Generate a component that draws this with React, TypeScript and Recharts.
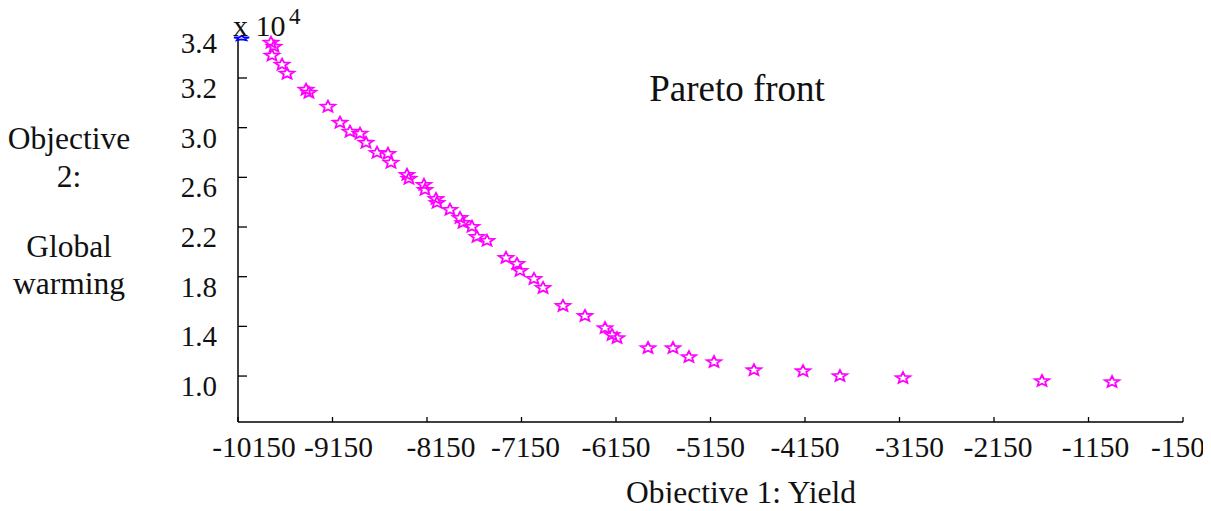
import { Scatter, ScatterChart, XAxis, YAxis } from 'recharts';

// Objective 1 (yield) and objective 2 (global warming, x 10^4) for each Pareto point
const YIELD = [
  -9801, -9769, -9790, -9684, -9631, -9430, -9399, -9198, -9071, -8965, -8859, -8796,
  -8679, -8563, -8531, -8362, -8341, -8182, -8171, -8055, -8044, -7907, -7801, -7769,
  -7674, -7621, -7515, -7314, -7198, -7166, -7018, -6922, -6711, -6478, -6266, -6192,
  -6139, -5811, -5547, -5378, -5113, -4690, -4171, -3780, -3113, -1642, -901,
];
const WARMING = [
  3.685, 3.653, 3.581, 3.508, 3.435, 3.306, 3.282, 3.169, 3.04, 2.968, 2.952, 2.879,
  2.798, 2.79, 2.718, 2.621, 2.589, 2.54, 2.5, 2.427, 2.395, 2.339, 2.274, 2.234,
  2.202, 2.121, 2.089, 1.952, 1.903, 1.847, 1.782, 1.71, 1.565, 1.484, 1.387, 1.331,
  1.306, 1.226, 1.226, 1.153, 1.113, 1.048, 1.04, 1.0, 0.984, 0.96, 0.952,
];
const REFERENCE_POINT = [{ x: -10112, y: 3.72 }];

const X_TICKS = [-10150, -9150, -8150, -7150, -6150, -5150, -4150, -3150, -2150, -1150, -150];
const Y_TICKS = [1.0, 1.4, 1.8, 2.2, 2.6, 3.0, 3.4, 3.722];
const Y_TICK_LABELS = ['1.0', '1.4', '1.8', '2.2', '2.6', '3.0', '3.2', '3.4'];

// hand placed label nudges in the original figure
const X_LABEL_NUDGE = [16, 6, 14, 4, 0, 0, 0, 10, 4, 7, -5];

const FONT = '"Liberation Serif", "Times New Roman", serif';

const points = YIELD.map((x, i) => ({ x, y: WARMING[i] }));

function starPath(cx: number, cy: number, rx: number, ry: number) {
  const pts: string[] = [];
  for (let i = 0; i < 10; i++) {
    const a = -Math.PI / 2 + (i * Math.PI) / 5;
    const k = i % 2 === 0 ? 1 : 0.45;
    pts.push(`${(cx + Math.cos(a) * rx * k).toFixed(2)},${(cy + Math.sin(a) * ry * k).toFixed(2)}`);
  }
  return `M${pts.join('L')}Z`;
}

function Star(color: string, rx = 7.5, ry = 6) {
  return (props: any) => (
    <path d={starPath(props.cx, props.cy, rx, ry)} fill="none" stroke={color} strokeWidth={1.8} />
  );
}

function XTick({ x, y, payload, index }: any) {
  return (
    <g>
      <line x1={x} x2={x} y1={y} y2={y - 5} stroke="#000" strokeWidth={1.3} />
      <text x={x + X_LABEL_NUDGE[index]} y={y + 25} textAnchor="middle" dominantBaseline="central" fontSize={29.5} fontFamily={FONT} fill="#111">
        {payload.value}
      </text>
    </g>
  );
}

function YTick({ x, y, index }: any) {
  const top = index === Y_TICKS.length - 1;
  return (
    <g>
      {!top && <line x1={x} x2={x + 9} y1={y} y2={y} stroke="#000" strokeWidth={1.3} />}
      <text x={x - 21} y={y + (top ? 5 : 10)} textAnchor="end" dominantBaseline="central" fontSize={29} fontFamily={FONT} fill="#111">
        {Y_TICK_LABELS[index]}
      </text>
    </g>
  );
}

function Txt({ x, y, size, children }: { x: number; y: number; size: number; children: any }) {
  return (
    <div
      style={{
        position: 'absolute',
        left: x,
        top: y,
        transform: 'translate(-50%, -50%)',
        fontSize: size,
        lineHeight: 1,
        whiteSpace: 'nowrap',
        color: '#111',
        fontFamily: FONT,
      }}
    >
      {children}
    </div>
  );
}

export default function App() {
  return (
    <div style={{ position: 'relative', width: 1211, height: 511, margin: -8, background: '#fff' }}>
      <ScatterChart width={1211} height={511} margin={{ top: 38, right: 28, bottom: 49, left: 178 }}>
        <XAxis
          type="number"
          dataKey="x"
          domain={[-10150, -150]}
          ticks={X_TICKS}
          interval={0}
          height={40}
          tickSize={0}
          tickMargin={0}
          tick={<XTick />}
          axisLine={{ stroke: '#000', strokeWidth: 1.5 }}
        />
        <YAxis
          type="number"
          dataKey="y"
          domain={[0.63, 3.722]}
          ticks={Y_TICKS}
          interval={0}
          width={60}
          tickSize={0}
          tickMargin={0}
          tick={<YTick />}
          axisLine={{ stroke: '#000', strokeWidth: 1.5 }}
        />
        <Scatter data={points} shape={Star('#ff00ff')} isAnimationActive={false} />
        <Scatter data={REFERENCE_POINT} shape={Star('#0000ff', 8, 2.5)} isAnimationActive={false} />
      </ScatterChart>

      <Txt x={737} y={88} size={37}>Pareto front</Txt>
      <Txt x={741} y={493} size={31.5}>Objective 1: Yield</Txt>
      <Txt x={69} y={139} size={31.5}>Objective</Txt>
      <Txt x={69} y={177} size={31.5}>2:</Txt>
      <Txt x={69} y={247} size={31.5}>Global</Txt>
      <Txt x={69} y={284} size={31.5}>warming</Txt>
      <div style={{ position: 'absolute', left: 233, top: 11, fontSize: 30, lineHeight: 1, fontFamily: FONT, color: '#111' }}>
        x 10
      </div>
      <div style={{ position: 'absolute', left: 289, top: 5, fontSize: 23, lineHeight: 1, fontFamily: FONT, color: '#111' }}>
        4
      </div>
    </div>
  );
}
